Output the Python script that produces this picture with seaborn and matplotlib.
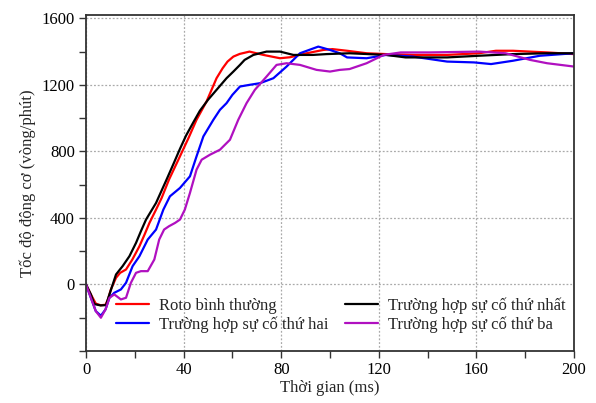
import numpy as np
import pandas as pd
import matplotlib
matplotlib.use("Agg")
import matplotlib.pyplot as plt
import seaborn as sns
from matplotlib.ticker import MultipleLocator, FixedLocator

# ---- data ----
t_red = [0, 2, 4, 6, 8, 9, 10.2, 12.3, 14, 16.4, 19, 21.9, 24, 26, 28.7, 31, 34, 38.5, 42, 45.3, 49.4, 53.5, 56, 58, 60.4, 63, 67, 72.7, 79.5, 83.6, 90.4, 97.3, 101, 107, 115, 123, 134, 148, 161, 168, 175, 189, 200]
v_red = [0, -60, -115, -125, -122, -90, -30, 40, 70, 90, 150, 230, 300, 370, 450, 520, 630, 770, 880, 990, 1100, 1240, 1300, 1340, 1370, 1386, 1400, 1380, 1360, 1366, 1390, 1410, 1415, 1405, 1390, 1385, 1380, 1380, 1390, 1405, 1405, 1395, 1385]

t_black = [0, 2, 3.4, 6, 8.2, 9.6, 12.3, 15, 17.8, 20.5, 22.5, 24.6, 28.7, 33, 36, 38.5, 41, 44, 46.7, 50, 53.5, 57.6, 60.4, 63.1, 65, 68.6, 74, 79.5, 85, 93, 98.6, 108, 123, 131, 148, 161, 175, 189, 200]
v_black = [0, -60, -118, -126, -124, -60, 60, 110, 170, 250, 320, 390, 490, 630, 730, 815, 895, 975, 1045, 1110, 1170, 1240, 1280, 1320, 1350, 1380, 1400, 1400, 1380, 1380, 1385, 1390, 1380, 1365, 1365, 1375, 1385, 1390, 1390]

t_blue = [0, 2, 4, 6.1, 8, 9.6, 11.6, 14.3, 16.4, 19.1, 21.9, 25.3, 28.7, 31.7, 34.4, 38.5, 42.6, 45.3, 48.1, 52.2, 54.9, 57.6, 60, 63.1, 67, 71.3, 76.8, 82.2, 87.7, 95.2, 100, 104, 107, 115, 123, 134, 148, 159, 166, 175, 186, 200]
v_blue = [0, -80, -160, -188, -150, -80, -50, -30, 10, 110, 170, 270, 330, 450, 530, 580, 650, 770, 890, 990, 1050, 1090, 1140, 1190, 1200, 1210, 1240, 1310, 1390, 1430, 1410, 1390, 1365, 1360, 1380, 1370, 1340, 1335, 1325, 1345, 1375, 1390]

t_purple = [0, 2, 4, 6.1, 8, 9.6, 11.6, 14.3, 16.4, 18.4, 20.5, 22.5, 25.3, 28, 30, 32, 34, 36.5, 38.5, 40.5, 42.6, 45.3, 47.4, 50.8, 54.9, 59, 62.4, 65.8, 69.2, 74, 78.1, 82.2, 87.7, 94.5, 100, 104, 108, 115, 122, 129, 141, 161, 172, 182, 189, 200]
v_purple = [0, -80, -160, -200, -150, -80, -60, -90, -80, 10, 70, 80, 80, 150, 270, 330, 350, 370, 390, 450, 550, 690, 750, 780, 810, 870, 990, 1090, 1170, 1250, 1320, 1330, 1320, 1290, 1280, 1290, 1295, 1330, 1380, 1395, 1395, 1400, 1390, 1350, 1330, 1310]

labels = ["Roto bình thường", "Trường hợp sự cố thứ hai",
          "Trường hợp sự cố thứ nhất", "Trường hợp sự cố thứ ba"]
colors = ["#FF0000", "#0000FF", "#000000", "#B010C0"]
y_major = [0, 400, 800, 1200, 1600]

series = [(t_red, v_red), (t_blue, v_blue), (t_black, v_black), (t_purple, v_purple)]

frames = []
for (t, v), lab in zip(series, labels):
    frames.append(pd.DataFrame({"t": t, "v": v, "s": lab}))
df = pd.concat(frames, ignore_index=True)

sns.set_style("white")
plt.rcParams['font.family'] = ['Liberation Serif', 'DejaVu Serif']

fig = plt.figure(figsize=(5.96, 4.03), dpi=100)
ax = fig.add_axes([86/596, 52/403, 488/596, 336/403])

sns.lineplot(data=df, x="t", y="v", hue="s", hue_order=labels,
             palette=dict(zip(labels, colors)), sort=False,
             linewidth=1.6, ax=ax, estimator=None)

ax.set_xlim(0, 200)
ax.set_ylim(-400, 1620)
ax.xaxis.set_major_locator(MultipleLocator(40))
ax.xaxis.set_minor_locator(MultipleLocator(20))
ax.yaxis.set_major_locator(FixedLocator(y_major))
ax.yaxis.set_minor_locator(MultipleLocator(200))
ax.tick_params(which="both", direction="out", length=5, width=1, colors="#333333",
               labelsize=12, labelcolor="black", bottom=True, left=True, top=False, right=False)
ax.tick_params(which="major", pad=3)
ax.grid(True, which="major", linestyle=(0, (1.5, 1.5)), color="#aaaaaa", linewidth=0.9)
for sp in ax.spines.values():
    sp.set_color("#333333")
    sp.set_linewidth(1.3)

ax.set_xlabel("Thời gian (ms)", fontsize=12, labelpad=1)
ax.set_ylabel("Tốc độ động cơ (vòng/phút)", fontsize=12, labelpad=4)

ax.legend(loc="lower left", bbox_to_anchor=(0.04, 0.025), ncol=2, frameon=False,
          fontsize=12, handlelength=2.0, handletextpad=0.6, columnspacing=1.0,
          labelspacing=0.15, borderaxespad=0.2)

fig.savefig("out.png", dpi=100)
